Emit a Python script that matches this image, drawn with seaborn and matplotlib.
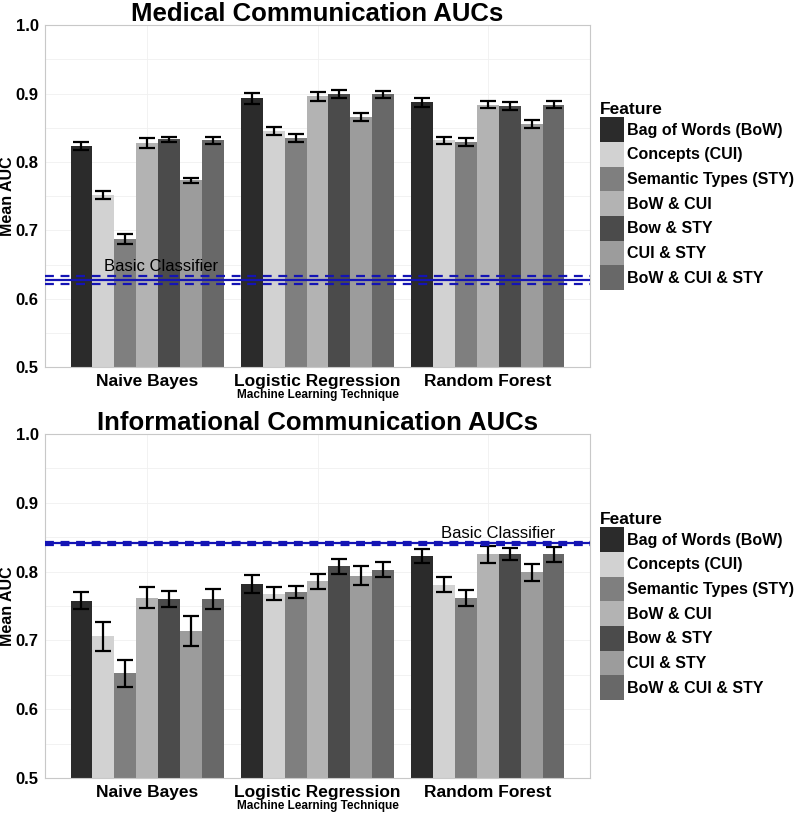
import numpy as np
import pandas as pd
import seaborn as sns
import matplotlib.pyplot as plt
from matplotlib.ticker import MultipleLocator

techniques = ['Naive Bayes', 'Logistic Regression', 'Random Forest']
features = ['Bag of Words (BoW)', 'Concepts (CUI)', 'Semantic Types (STY)',
            'BoW & CUI', 'Bow & STY', 'CUI & STY', 'BoW & CUI & STY']
colors = ['#2b2b2b', '#d2d2d2', '#7f7f7f', '#b3b3b3', '#4b4b4b', '#9c9c9c', '#686868']

# medical communication: one row per technique, one value per feature
med_auc = [[0.823, 0.752, 0.687, 0.828, 0.833, 0.773, 0.832],
           [0.893, 0.845, 0.835, 0.896, 0.900, 0.866, 0.899],
           [0.887, 0.832, 0.829, 0.884, 0.882, 0.856, 0.884]]
med_err = [[0.006, 0.006, 0.007, 0.007, 0.004, 0.004, 0.005],
           [0.008, 0.006, 0.006, 0.007, 0.006, 0.006, 0.005],
           [0.007, 0.005, 0.006, 0.005, 0.006, 0.006, 0.005]]
med_base = 0.627
med_base_ci = 0.006

# informational communication
inf_auc = [[0.758, 0.706, 0.652, 0.762, 0.760, 0.714, 0.760],
           [0.782, 0.768, 0.770, 0.786, 0.808, 0.794, 0.803],
           [0.823, 0.781, 0.762, 0.825, 0.826, 0.799, 0.825]]
inf_err = [[0.012, 0.021, 0.019, 0.015, 0.012, 0.022, 0.015],
           [0.013, 0.009, 0.009, 0.011, 0.011, 0.014, 0.011],
           [0.010, 0.011, 0.012, 0.012, 0.009, 0.012, 0.011]]
inf_base = 0.841
inf_base_ci = 0.002

sns.set_style('white')
plt.rcParams['font.family'] = ['Liberation Sans', 'DejaVu Sans']
plt.rcParams['text.color'] = 'black'
plt.rcParams['xtick.color'] = 'black'
plt.rcParams['ytick.color'] = 'black'
plt.rcParams['axes.labelcolor'] = 'black'

line_blue = '#1414b4'


def panel(ax, auc, err, base, base_ci, title, note_x, note_y):
    df = pd.DataFrame({'technique': np.repeat(techniques, len(features)),
                       'feature': features * len(techniques),
                       'auc': np.ravel(auc)})
    sns.barplot(data=df, x='technique', y='auc', hue='feature',
                order=techniques, hue_order=features, palette=colors,
                width=0.9, gap=0, errorbar=None, saturation=1, ax=ax,
                linewidth=0, edgecolor='none', zorder=2)

    auc = np.array(auc)
    err = np.array(err)
    bars = list(ax.containers)
    for j, cont in enumerate(bars):
        xs = [p.get_x() + p.get_width() / 2 for p in cont.patches]
        ax.errorbar(xs, auc[:, j], yerr=err[:, j], fmt='none', ecolor='black',
                    elinewidth=1.6, capsize=6, capthick=1.6, zorder=3)

    ax.axhline(base, color=line_blue, lw=1.6, zorder=4)
    ax.axhline(base + base_ci, color=line_blue, lw=1.6, ls=(0, (4, 3)), zorder=4)
    ax.axhline(base - base_ci, color=line_blue, lw=1.6, ls=(0, (4, 3)), zorder=4)
    ax.text(note_x, note_y, 'Basic Classifier', ha='center', va='center',
            fontsize=12, zorder=5)

    ax.set_xlim(-0.6, 2.6)
    ax.set_ylim(0.5, 1.0)
    ax.yaxis.set_minor_locator(MultipleLocator(0.05))
    ax.grid(True, which='both', axis='y', color='#f0f0f0', lw=0.6, zorder=0)
    ax.grid(True, which='major', axis='x', color='#f0f0f0', lw=0.6, zorder=0)
    ax.set_axisbelow(True)

    for s in ax.spines.values():
        s.set_color('#c8c8c8')
        s.set_linewidth(0.8)
    ax.tick_params(axis='both', which='major', length=3, color='#8a8a8a', pad=2)
    ax.tick_params(axis='y', which='major', pad=1.5)
    ax.tick_params(axis='both', which='minor', length=0)
    ax.set_yticks([0.5, 0.6, 0.7, 0.8, 0.9, 1.0])
    ax.set_yticklabels(['0.5', '0.6', '0.7', '0.8', '0.9', '1.0'],
                       fontsize=12, fontweight='bold')
    ax.set_xticks(range(len(techniques)))
    ax.set_xticklabels(techniques, fontsize=12.5, fontweight='bold')

    ax.set_xlabel('Machine Learning Technique', fontsize=8.5, fontweight='bold', labelpad=0)
    ax.set_ylabel('Mean AUC', fontsize=11.5, fontweight='bold', labelpad=0.5)
    ax.set_title(title, fontsize=18.5, fontweight='bold', pad=3)

    ax.legend(title='Feature', loc='center left', bbox_to_anchor=(1.006, 0.5),
              frameon=False, handlelength=1.55, handleheight=2.0, labelspacing=0,
              handletextpad=0.15, borderaxespad=0,
              prop={'size': 11.5, 'weight': 'bold'},
              title_fontproperties={'size': 12.5, 'weight': 'bold'},
              alignment='left')


fig = plt.figure(figsize=(8, 8.14), dpi=100)
ax1 = fig.add_axes([0.05625, 0.549, 0.68125, 0.420])
ax2 = fig.add_axes([0.05625, 0.0442, 0.68125, 0.4226])

panel(ax1, med_auc, med_err, med_base, med_base_ci,
      'Medical Communication AUCs', 0.08, 0.647)
panel(ax2, inf_auc, inf_err, inf_base, inf_base_ci,
      'Informational Communication AUCs', 2.06, 0.856)

fig.savefig('out.png', dpi=100)
